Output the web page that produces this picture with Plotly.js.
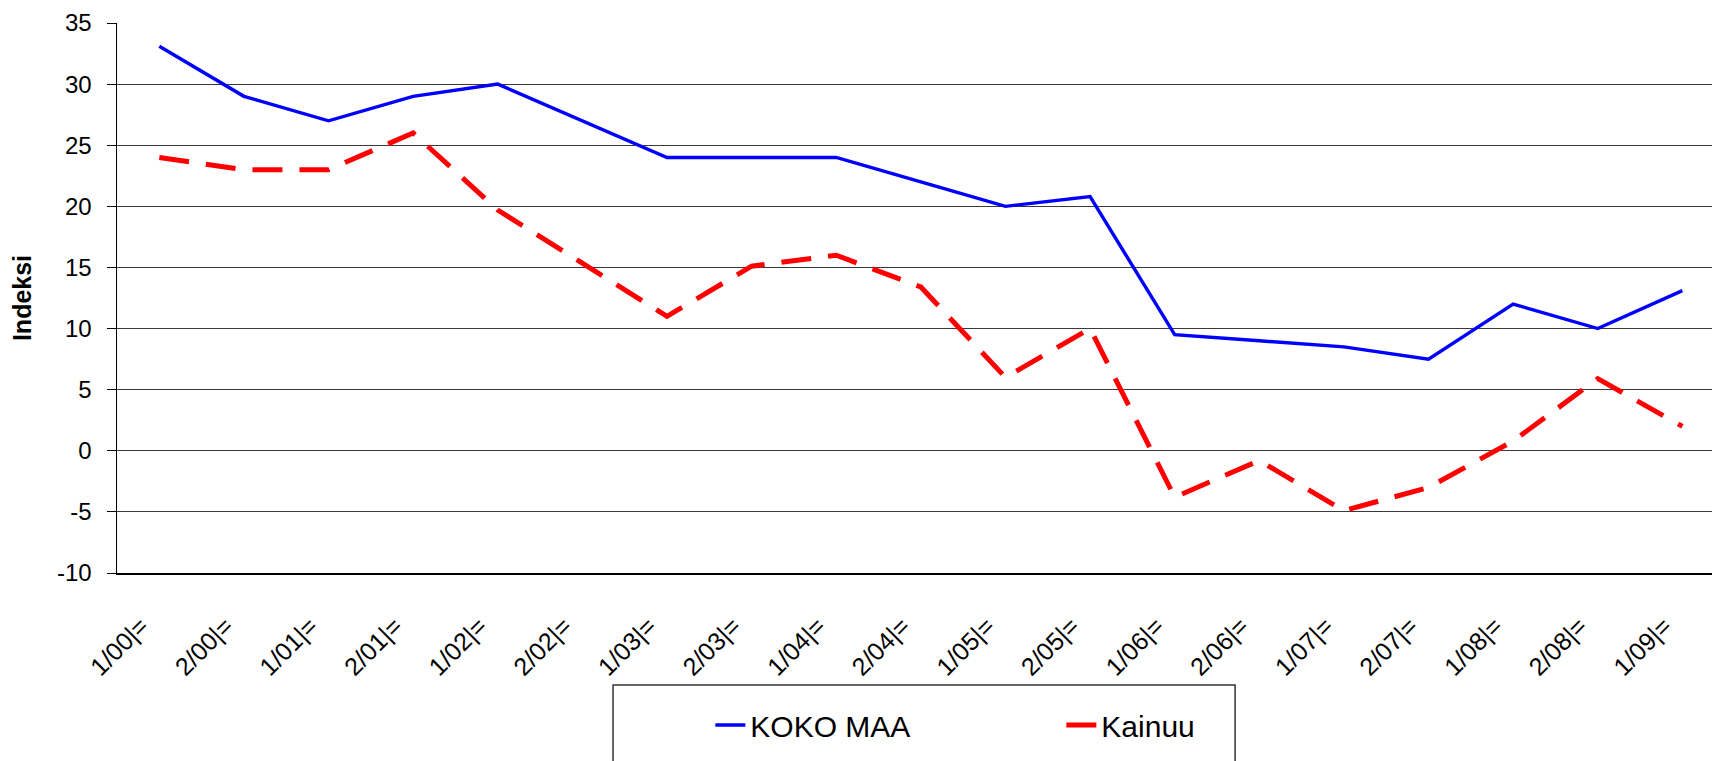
<!DOCTYPE html>
<html>
<head>
<meta charset="utf-8">
<script src="https://cdn.plot.ly/plotly-3.0.1.min.js"></script>
<style>
  body { margin: 0; background: #fff; }
  #chart { width: 1712px; height: 761px; }
</style>
</head>
<body>
<div id="chart"></div>
<script>
// half-year periods
let periods = ['1/00|=', '2/00|=', '1/01|=', '2/01|=', '1/02|=', '2/02|=', '1/03|=', '2/03|=',
               '1/04|=', '2/04|=', '1/05|=', '2/05|=', '1/06|=', '2/06|=', '1/07|=', '2/07|=',
               '1/08|=', '2/08|=', '1/09|='];

let kokoMaa = [33.1, 29, 27, 29, 30, 27, 24, 24, 24, 22, 20, 20.8, 9.5, 9, 8.5, 7.5, 12, 10, 13.1];
let kainuu  = [24, 23, 23, 26, 19.7, 15.3, 11, 15.1, 16, 13.4, 6, 10, -3.8, -0.8, -4.9, -3, 0.8, 5.9, 2];

let yTicks = [-10, -5, 0, 5, 10, 15, 20, 25, 30, 35];

let font = 'Liberation Sans, Arial, sans-serif';

let traces = [
  {
    x: periods,
    y: kokoMaa,
    type: 'scatter',
    mode: 'lines',
    name: 'KOKO MAA',
    line: { color: '#0000ff', width: 3.4 }
  },
  {
    x: periods,
    y: kainuu,
    type: 'scatter',
    mode: 'lines',
    name: 'Kainuu',
    line: { color: '#ff0000', width: 5, dash: '30px,17px' }
  }
];

let layout = {
  width: 1712,
  height: 761,
  margin: { l: 117, r: 0, t: 23, b: 188 },
  paper_bgcolor: '#ffffff',
  plot_bgcolor: '#ffffff',
  font: { family: font, color: '#000000', size: 22 },
  showlegend: true,
  xaxis: {
    type: 'category',
    range: [-0.5, 18.35],
    showgrid: false,
    zeroline: false,
    showline: true,
    linecolor: '#000000',
    linewidth: 1.5,
    ticks: '',
    tickangle: -45,
    tickfont: { size: 25 },
    ticklabelshift: -18,
    ticklabelstandoff: 27,
    fixedrange: true
  },
  yaxis: {
    range: [-10, 35],
    tickvals: yTicks,
    ticktext: yTicks.map(String),
    showgrid: true,
    gridcolor: '#3a3a3a',
    gridwidth: 1,
    zeroline: false,
    showline: true,
    linecolor: '#000000',
    linewidth: 1.5,
    ticks: 'outside',
    ticklen: 9,
    tickcolor: '#000000',
    tickfont: { size: 24 },
    ticklabelstandoff: 10,
    title: { text: 'Indeksi', font: { size: 25, weight: 'bold' }, standoff: 18 },
    automargin: false,
    fixedrange: true
  },
  legend: {
    orientation: 'h',
    x: 0.372,
    y: -0.2764,
    xanchor: 'left',
    yanchor: 'middle',
    bgcolor: 'rgba(0,0,0,0)',
    borderwidth: 0,
    font: { size: 30 },
    entrywidth: 306,
    entrywidthmode: 'pixels'
  },
  shapes: [
    {
      // legend frame
      type: 'rect',
      xref: 'paper', yref: 'paper',
      x0: 0.311, x1: 0.701,
      y0: -0.2036, y1: -0.45,
      line: { color: '#333333', width: 1.5 },
      fillcolor: 'rgba(0,0,0,0)'
    }
  ]
};

Plotly.newPlot('chart', traces, layout, { displayModeBar: false, staticPlot: true });
</script>
</body>
</html>
